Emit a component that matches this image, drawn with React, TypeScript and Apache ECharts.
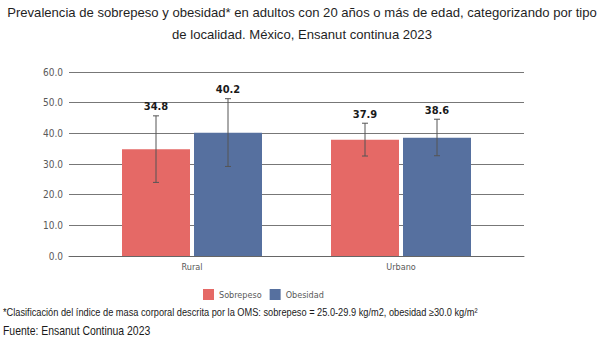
import React, { useEffect, useRef } from "react";
import * as echarts from "echarts";

const categories = ["Rural", "Urbano"];
const seriesNames = ["Sobrepeso", "Obesidad"];
const sobrepeso = [34.8, 37.9];
const obesidad = [40.2, 38.6];
const sobrepesoLow = [24.0, 32.6];
const sobrepesoHigh = [45.7, 43.3];
const obesidadLow = [29.2, 32.7];
const obesidadHigh = [51.3, 44.6];
const yTicks = { min: 0, max: 60, interval: 10 };
const titleLines = [
  "Prevalencia de sobrepeso y obesidad* en adultos con 20 años o más de edad, categorizando por tipo",
  "de localidad. México, Ensanut continua 2023",
];
const footnote =
  "*Clasificación del índice de masa corporal descrita por la OMS: sobrepeso = 25.0-29.9 kg/m2, obesidad ≥30.0 kg/m²";
const source = "Fuente: Ensanut Continua 2023";

const colors = ["#E56966", "#56709F"];
const narrow = "'Liberation Sans Narrow', 'DejaVu Sans Condensed', Roboto, sans-serif";
const arial = "'Liberation Sans', Arial, sans-serif";

export default function App() {
  const ref = useRef<HTMLDivElement>(null);
  useEffect(() => {
    if (!ref.current) return;
    const chart = echarts.init(ref.current, null, { renderer: "svg" });
    const BAR_W = 68;
    const GAP = 4;
    const errSeries = (idx: number, low: number[], high: number[], vals: number[]) => ({
      type: "custom",
      xAxisIndex: 0,
      yAxisIndex: 0,
      z: 5,
      data: categories.map((c, i) => [i, low[i], high[i], vals[i]]),
      renderItem: (params: any, api: any) => {
        const off = (idx === 0 ? -1 : 1) * (BAR_W / 2 + GAP / 2);
        const lo = api.coord([api.value(0), api.value(1)]);
        const hi = api.coord([api.value(0), api.value(2)]);
        const x = lo[0] + off;
        const cap = 3;
        const st = { stroke: "#555555", lineWidth: 1 };
        return {
          type: "group",
          children: [
            { type: "line", shape: { x1: x, y1: lo[1], x2: x, y2: hi[1] }, style: st },
            { type: "line", shape: { x1: x - cap, y1: lo[1], x2: x + cap, y2: lo[1] }, style: st },
            { type: "line", shape: { x1: x - cap, y1: hi[1], x2: x + cap, y2: hi[1] }, style: st },
            {
              type: "text",
              x: x,
              y: hi[1] - 9,
              style: {
                text: api.value(3).toFixed(1),
                align: "center",
                verticalAlign: "middle",
                fontSize: 11,
                fontWeight: "bold",
                fontFamily: narrow,
                fill: "#1a1a1a",
              },
            },
          ],
        };
      },
    });
    chart.setOption({
      animation: false,
      backgroundColor: "#ffffff",
      legend: {
        data: seriesNames,
        left: 198,
        top: 284,
        itemWidth: 11,
        itemHeight: 11,
        itemGap: 8,
        icon: "rect",
        textStyle: { fontSize: 9, fontFamily: narrow, color: "#595959" },
      },
      grid: [
        { left: 87.5, right: 98.5, top: 72, bottom: 94 },
        { left: 69, right: 80, top: 72, bottom: 94 },
      ],
      xAxis: [
        {
          type: "category",
          gridIndex: 0,
          data: categories,
          axisLine: { show: false },
          axisTick: { show: false },
          axisLabel: { fontSize: 9, fontFamily: narrow, color: "#595959", margin: 6 },
        },
        {
          type: "category",
          gridIndex: 1,
          data: categories,
          axisLine: { show: true, lineStyle: { color: "#666666", width: 1 } },
          axisTick: { show: false },
          axisLabel: { show: false },
        },
      ],
      yAxis: [
        {
          type: "value",
          gridIndex: 0,
          min: yTicks.min,
          max: yTicks.max,
          interval: yTicks.interval,
          axisLabel: { show: false },
          splitLine: { show: false },
          axisLine: { show: false },
        },
        {
          type: "value",
          gridIndex: 1,
          min: yTicks.min,
          max: yTicks.max,
          interval: yTicks.interval,
          axisLine: { show: false },
          axisTick: { show: false },
          splitLine: { show: true, lineStyle: { color: "#777777", width: 1 } },
          axisLabel: {
            fontSize: 10,
            fontFamily: narrow,
            color: "#595959",
            margin: 6,
            formatter: (v: number) => v.toFixed(1),
          },
        },
      ],
      series: [
        {
          name: seriesNames[0],
          type: "bar",
          xAxisIndex: 0,
          yAxisIndex: 0,
          data: sobrepeso,
          barWidth: BAR_W,
          barGap: (GAP / BAR_W) * 100 + "%",
          itemStyle: { color: colors[0] },
          z: 3,
        },
        {
          name: seriesNames[1],
          type: "bar",
          xAxisIndex: 0,
          yAxisIndex: 0,
          data: obesidad,
          barWidth: BAR_W,
          barGap: (GAP / BAR_W) * 100 + "%",
          itemStyle: { color: colors[1] },
          z: 3,
        },
        {
          type: "line",
          xAxisIndex: 1,
          yAxisIndex: 1,
          data: [],
          silent: true,
        },
        errSeries(0, sobrepesoLow, sobrepesoHigh, sobrepeso),
        errSeries(1, obesidadLow, obesidadHigh, obesidad),
      ],
      graphic: [
        ...titleLines.map((t, i) => ({
          type: "text",
          x: 302,
          y: 12 + i * 22,
          style: {
            text: t,
            align: "center",
            verticalAlign: "middle",
            fontSize: 13.1,
            fontFamily: arial,
            fill: "#1f1f1f",
          },
        })),
        {
          type: "text",
          x: 3,
          y: 312,
          scaleX: 0.88,
          style: {
            text: footnote,
            verticalAlign: "middle",
            fontSize: 10.5,
            fontFamily: arial,
            fill: "#1a1a1a",
          },
        },
        {
          type: "text",
          x: 3,
          y: 331,
          scaleX: 0.87,
          style: {
            text: source,
            verticalAlign: "middle",
            fontSize: 12,
            fontFamily: arial,
            fill: "#1a1a1a",
          },
        },
      ],
    });
    return () => chart.dispose();
  }, []);
  return <div ref={ref} style={{ width: 604, height: 350, position: "absolute", left: 0, top: 0 }} />;
}
